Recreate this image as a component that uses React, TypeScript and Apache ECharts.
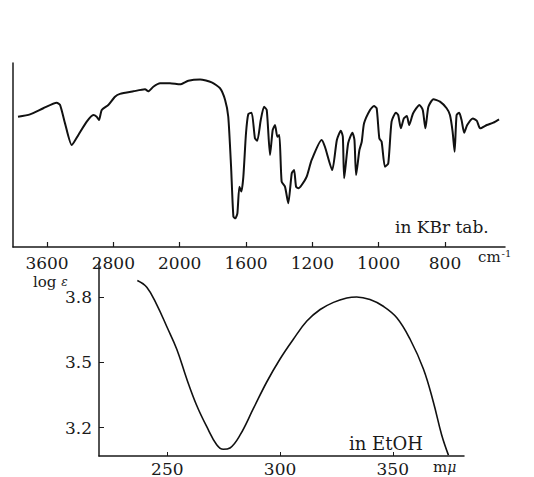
import React, { useEffect, useRef } from "react";
import * as echarts from "echarts";

// IR spectrum (in KBr tab.): wavenumber (cm-1) vs transmittance (% of frame height)
const irWavenumbers = [
  3950, 3805, 3645, 3483, 3443, 3383, 3302, 3222, 3121, 3042, 3001, 2973, 2940, 2861, 2780, 2720,
  2559, 2418, 2378, 2318, 2237, 2117, 1998, 1948, 1877, 1807, 1757, 1726, 1707, 1690, 1676, 1664,
  1652, 1640, 1628, 1616, 1600, 1586, 1566, 1546, 1532, 1511, 1491, 1475, 1455, 1439, 1425, 1411,
  1399, 1385, 1365, 1345, 1324, 1310, 1298, 1284, 1264, 1234, 1204, 1172, 1162, 1140, 1126, 1114,
  1108, 1104, 1092, 1079, 1073, 1068, 1058, 1051, 1044, 1026, 1014, 1006, 998, 991, 981, 971,
  961, 948, 941, 933, 924, 915, 908, 896, 877, 867, 859, 850, 835, 815, 795, 785,
  777, 771, 765, 757, 750, 742, 733, 716, 704, 694, 674, 654, 637,
];
const irTransmittance = [
  70.8, 72.1, 75.4, 78.4, 77.2, 67.2, 55.4, 60.9, 68.1, 71.7, 70.8, 69.0, 74.5, 77.2, 81.7, 83.2,
  84.6, 85.7, 84.6, 87.1, 89.0, 89.0, 88.4, 90.4, 91.1, 89.5, 86.3, 79.9, 70.8, 43.6, 16.5, 15.6,
  18.3, 32.8, 30.1, 38.2, 61.8, 72.3, 73.0, 59.1, 57.8, 69.0, 76.2, 74.5, 50.0, 63.6, 66.3, 59.9,
  60.9, 35.5, 32.8, 23.8, 40.1, 41.8, 32.8, 31.9, 33.7, 38.2, 47.3, 58.2, 54.5, 41.8, 58.2, 63.2,
  59.9, 37.3, 56.4, 62.1, 58.2, 39.1, 52.7, 57.2, 67.2, 74.5, 76.6, 75.4, 59.1, 57.2, 43.6, 45.5,
  68.1, 73.0, 71.7, 64.5, 69.9, 71.2, 66.3, 72.7, 77.2, 74.5, 64.5, 76.2, 80.3, 79.0, 75.4, 71.7,
  62.7, 51.8, 71.7, 73.0, 69.0, 62.1, 66.3, 69.9, 68.6, 64.5, 66.3, 67.6, 69.4,
];
// IR axis tick labels (piecewise scale, equally spaced)
const irTickLabels = [3600, 2800, 2000, 1600, 1200, 1000, 800];

// UV spectrum (in EtOH): wavelength (mμ) vs log ε
const uvWavelengths = [
  236.7, 240.9, 245.3, 250, 254.2, 258.6, 263.0, 267.5, 271.9, 274.8, 277.8, 282.3, 288.2, 294.1,
  300, 305.9, 311.9, 317.8, 323.7, 329.6, 334.0, 339.9, 345.8, 351.8, 357.7, 363.6, 368.0, 371.7,
  374.7,
];
const uvLogEps = [
  3.878, 3.847, 3.767, 3.66, 3.561, 3.425, 3.303, 3.204, 3.121, 3.1, 3.106, 3.166, 3.288, 3.41,
  3.516, 3.607, 3.691, 3.744, 3.777, 3.797, 3.802, 3.79, 3.759, 3.706, 3.607, 3.47, 3.318, 3.166,
  3.073,
];
const uvXTicks = [250, 300, 350];
const uvYTicks = [3.2, 3.5, 3.8];

// piecewise-linear IR abscissa: each labelled tick is one unit apart
function wnToUnit(w: number): number {
  const t = irTickLabels;
  if (w >= t[0]) return (t[0] - w) / (t[0] - t[1]);
  for (let i = 0; i < t.length - 1; i++) {
    if (w <= t[i] && w >= t[i + 1]) return i + (t[i] - w) / (t[i] - t[i + 1]);
  }
  const n = t.length - 1;
  return n + (t[n] - w) / (t[n - 1] - t[n]);
}

const FONT = "DejaVu Serif";
const INK = "#1a1a1a";

export default function App() {
  const ref = useRef<HTMLDivElement>(null);
  useEffect(() => {
    document.body.style.margin = "0";
    const chart = echarts.init(ref.current!, null, { renderer: "svg" });
    const irData = irWavenumbers.map((w, i) => [wnToUnit(w), irTransmittance[i]]);
    const uvData = uvWavelengths.map((w, i) => [w, uvLogEps[i]]);
    const unitTicks = irTickLabels.map((_, i) => i);
    chart.setOption({
      animation: false,
      backgroundColor: "#ffffff",
      grid: [
        { left: 13, top: 63, width: 492, height: 184 },
        { left: 99, top: 262, width: 365, height: 196 },
      ],
      xAxis: [
        {
          gridIndex: 0,
          type: "value",
          min: -0.513,
          max: 6.905,
          splitLine: { show: false },
          axisLine: { onZero: false, lineStyle: { color: INK, width: 1.5 } },
          axisTick: { inside: true, length: 5, customValues: unitTicks, lineStyle: { color: INK, width: 1.2 } },
          axisLabel: {
            customValues: unitTicks,
            formatter: (v: number) => String(irTickLabels[Math.round(v)]),
            fontFamily: FONT,
            fontSize: 17,
            lineHeight: 15,
            color: INK,
            margin: 8,
          },
        },
        {
          gridIndex: 1,
          type: "value",
          min: 219.7,
          max: 381.6,
          splitLine: { show: false },
          axisLine: { onZero: false, lineStyle: { color: INK, width: 1.5 } },
          axisTick: { inside: true, length: 4, customValues: uvXTicks, lineStyle: { color: INK, width: 1 } },
          axisLabel: {
            customValues: uvXTicks,
            fontFamily: FONT,
            fontSize: 17,
            color: INK,
            margin: 4,
          },
        },
      ],
      yAxis: [
        {
          gridIndex: 0,
          type: "value",
          min: 0,
          max: 100,
          splitLine: { show: false },
          axisLine: { show: true, onZero: false, lineStyle: { color: INK, width: 1.5 } },
          axisTick: { show: false },
          axisLabel: { show: false },
        },
        {
          gridIndex: 1,
          type: "value",
          min: 3.069,
          max: 3.963,
          splitLine: { show: false },
          axisLine: { show: true, onZero: false, lineStyle: { color: INK, width: 1.5 } },
          axisTick: { inside: true, length: 5, customValues: uvYTicks, lineStyle: { color: INK, width: 1 } },
          axisLabel: {
            customValues: uvYTicks,
            formatter: (v: number) => v.toFixed(1),
            fontFamily: FONT,
            fontSize: 17,
            lineHeight: 14,
            color: INK,
            margin: 7,
          },
        },
      ],
      series: [
        {
          type: "line",
          xAxisIndex: 0,
          yAxisIndex: 0,
          data: irData,
          showSymbol: false,
          smooth: 0.2,
          lineStyle: { color: "#111", width: 2 },
        },
        {
          type: "line",
          xAxisIndex: 1,
          yAxisIndex: 1,
          data: uvData,
          showSymbol: false,
          smooth: 0.4,
          lineStyle: { color: "#111", width: 1.6 },
        },
      ],
      graphic: [
        {
          type: "text",
          left: 395,
          top: 218,
          style: { text: "in KBr tab.", font: `17px "${FONT}"`, fill: INK },
        },
        {
          type: "text",
          left: 478,
          top: 248,
          style: {
            text: "{a|cm}{b|-1}",
            rich: {
              a: { fontFamily: FONT, fontSize: 15, fill: INK, verticalAlign: "bottom" },
              b: { fontFamily: FONT, fontSize: 10, fill: INK, verticalAlign: "top", padding: [0, 0, 6, 1] },
            },
          },
        },
        {
          type: "text",
          left: 33,
          top: 274,
          style: {
            text: "{a|log }{b|ε}",
            rich: {
              a: { fontFamily: FONT, fontSize: 15, lineHeight: 15, fill: INK },
              b: { fontFamily: FONT, fontSize: 12, lineHeight: 15, fontStyle: "italic", fill: INK },
            },
          },
        },
        {
          type: "text",
          left: 349,
          top: 434,
          style: { text: "in EtOH", font: `18px "${FONT}"`, fill: INK },
        },
        {
          type: "text",
          left: 433,
          top: 459,
          style: {
            text: "{a|m}{b|μ}",
            rich: {
              a: { fontFamily: FONT, fontSize: 15, fill: INK },
              b: { fontFamily: FONT, fontSize: 14, fontStyle: "italic", fill: INK },
            },
          },
        },
      ],
    });
    return () => chart.dispose();
  }, []);
  return <div ref={ref} style={{ width: 534, height: 477 }} />;
}
